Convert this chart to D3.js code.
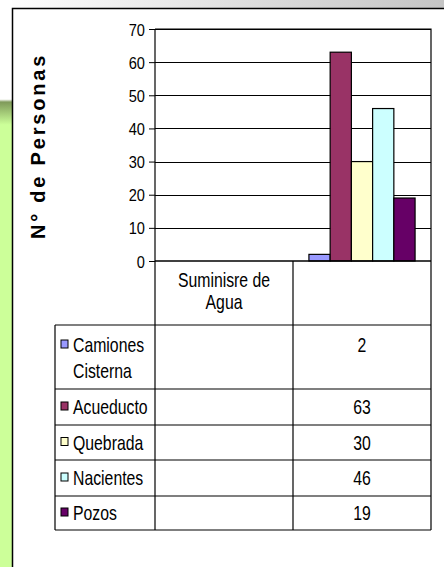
<!DOCTYPE html>
<html>
<head>
<meta charset="utf-8">
<script src="https://cdn.jsdelivr.net/npm/d3@7"></script>
<style>
  html, body { margin: 0; padding: 0; background: #fff; }
  svg { display: block; }
  text { font-family: "Liberation Sans", Arial, sans-serif; fill: #000; }
</style>
</head>
<body>
<svg id="chart"></svg>
<script>
  // ===== datos =====
  var categories = ['Suminisre de Agua', ''];
  var seriesNames = ['Camiones Cisterna', 'Acueducto', 'Quebrada', 'Nacientes', 'Pozos'];
  var seriesLines = [['Camiones', 'Cisterna'], ['Acueducto'], ['Quebrada'], ['Nacientes'], ['Pozos']];
  var seriesColors = ['#9999ff', '#993366', '#ffffcc', '#ccffff', '#660066'];
  // valor por categoría (null = sin dato)
  var seriesValues = [
    [null, 2],
    [null, 63],
    [null, 30],
    [null, 46],
    [null, 19]
  ];
  var yTicks = [0, 10, 20, 30, 40, 50, 60, 70];

  var W = 444, H = 567;
  var plotL = 155, plotR = 431, plotT = 29, plotB = 261;
  var tableL = 55, tableB = 530;
  var rowEdges = [325, 389, 425, 460, 496, 530];
  var SX = 0.79; // texto estrecho (como Arial Narrow)

  var svg = d3.select('#chart').attr('width', W).attr('height', H);

  // texto estrecho: escala horizontal alrededor del punto de anclaje
  function narrowText(parent, x, yy, lines, anchor, size, lh) {
    var t = parent.append('text')
      .attr('transform', 'translate(' + x + ',' + yy + ') scale(' + SX + ',1)')
      .attr('text-anchor', anchor).attr('font-size', size);
    t.selectAll('tspan').data(lines).join('tspan')
      .attr('x', 0).attr('dy', function (d, i) { return i === 0 ? 0 : lh; })
      .text(function (d) { return d; });
    return t;
  }

  // ===== fondo (franjas de la diapositiva) =====
  var defs = svg.append('defs');
  var gTop = defs.append('linearGradient').attr('id', 'gTop');
  gTop.append('stop').attr('offset', '0%').attr('stop-color', '#ffffff');
  gTop.append('stop').attr('offset', '100%').attr('stop-color', '#c4c4c4');
  var gLeft = defs.append('linearGradient').attr('id', 'gLeft')
    .attr('x1', 0).attr('y1', 0).attr('x2', 0).attr('y2', 1);
  gLeft.append('stop').attr('offset', '0%').attr('stop-color', '#ffffff');
  gLeft.append('stop').attr('offset', '17.5%').attr('stop-color', '#ffffff');
  gLeft.append('stop').attr('offset', '18%').attr('stop-color', '#7f9a5a');
  gLeft.append('stop').attr('offset', '22%').attr('stop-color', '#ccff99');
  gLeft.append('stop').attr('offset', '100%').attr('stop-color', '#ccff99');

  svg.append('rect').attr('x', 0).attr('y', 0).attr('width', W).attr('height', 8).attr('fill', 'url(#gTop)');
  svg.append('rect').attr('x', 0).attr('y', 0).attr('width', 12).attr('height', H).attr('fill', 'url(#gLeft)');
  svg.append('rect').attr('x', 12).attr('y', 8).attr('width', W - 12).attr('height', H - 8).attr('fill', '#fff');
  svg.append('path').attr('d', 'M12.5,' + H + 'V8.5H' + W)
    .attr('fill', 'none').attr('stroke', '#000').attr('stroke-width', 1.5);

  // ===== escalas =====
  var x0 = d3.scaleBand().domain(categories).range([plotL, plotR]).padding(0);
  var x1 = d3.scaleBand().domain(seriesNames).range([0, x0.bandwidth()]).paddingInner(0).paddingOuter(0.75);
  var y = d3.scaleLinear().domain([0, 70]).range([plotB, plotT]);

  // cuadrícula
  svg.append('g').selectAll('line').data(yTicks.slice(1)).join('line')
    .attr('x1', plotL).attr('x2', plotR)
    .attr('y1', function (d) { return Math.round(y(d)) + 0.5; })
    .attr('y2', function (d) { return Math.round(y(d)) + 0.5; })
    .attr('stroke', '#000').attr('stroke-width', 1);

  // barras
  var bars = [];
  seriesValues.forEach(function (vals, si) {
    vals.forEach(function (v, ci) {
      if (v != null) bars.push({ s: si, c: ci, v: v });
    });
  });
  svg.append('g').selectAll('rect').data(bars).join('rect')
    .attr('x', function (d) { return x0(categories[d.c]) + x1(seriesNames[d.s]); })
    .attr('y', function (d) { return y(d.v); })
    .attr('width', x1.bandwidth())
    .attr('height', function (d) { return y(0) - y(d.v); })
    .attr('fill', function (d) { return seriesColors[d.s]; })
    .attr('stroke', '#000').attr('stroke-width', 1.2);

  // eje Y
  var yAxis = svg.append('g').attr('transform', 'translate(' + plotL + ',0)')
    .call(d3.axisLeft(y).tickValues(yTicks).tickSize(6).tickPadding(5));
  yAxis.select('.domain').remove();
  yAxis.selectAll('.tick line').attr('stroke', '#000');
  yAxis.selectAll('.tick text')
    .attr('font-family', null).attr('font-size', 17)
    .attr('x', null).attr('dy', null)
    .attr('transform', 'translate(-10,6) scale(0.86,1)');

  // título del eje Y
  svg.append('text')
    .attr('transform', 'translate(45,146) rotate(-90)')
    .attr('text-anchor', 'middle')
    .attr('font-weight', 'bold').attr('font-size', 20)
    .attr('letter-spacing', 2.8)
    .text('N° de Personas');

  // ===== tabla de datos =====
  var colEdges = [plotL, x0(categories[1]), plotR];
  var lines = svg.append('g').attr('stroke', '#000').attr('stroke-width', 1.2).attr('fill', 'none');
  // marco del área y separadores
  lines.append('path').attr('d', 'M' + plotL + ',' + plotT + 'H' + plotR + 'V' + tableB);
  lines.append('line').attr('x1', plotL).attr('x2', plotL).attr('y1', plotT).attr('y2', tableB);
  lines.append('line').attr('x1', plotL).attr('x2', plotR).attr('y1', plotB).attr('y2', plotB).attr('stroke-width', 1.6);
  lines.append('line').attr('x1', colEdges[1]).attr('x2', colEdges[1]).attr('y1', plotB).attr('y2', tableB);
  lines.append('line').attr('x1', tableL).attr('x2', tableL).attr('y1', rowEdges[0]).attr('y2', tableB);
  lines.selectAll('line.row').data(rowEdges).join('line').attr('class', 'row')
    .attr('x1', tableL).attr('x2', plotR)
    .attr('y1', function (d) { return d; }).attr('y2', function (d) { return d; });

  // etiqueta de categoría
  narrowText(svg, (colEdges[0] + colEdges[1]) / 2, 287, ['Suminisre de', 'Agua'], 'middle', 20, 22);

  // filas de la serie
  var rows = svg.append('g').selectAll('g').data(seriesNames).join('g');
  rows.each(function (name, i) {
    var g = d3.select(this);
    var top = rowEdges[i], bot = rowEdges[i + 1];
    var nl = seriesLines[i].length;
    var base = nl > 1 ? top + 27 : (top + bot) / 2 + 7;
    g.append('rect')
      .attr('x', 61).attr('y', base - 12).attr('width', 7).attr('height', 8)
      .attr('fill', seriesColors[i]).attr('stroke', '#000').attr('stroke-width', 1);
    narrowText(g, 73, base, seriesLines[i], 'start', 20, 26);
    seriesValues[i].forEach(function (v, ci) {
      if (v == null) return;
      narrowText(g, (colEdges[ci] + colEdges[ci + 1]) / 2, base, [String(v)], 'middle', 20, 0);
    });
  });
</script>
</body>
</html>
